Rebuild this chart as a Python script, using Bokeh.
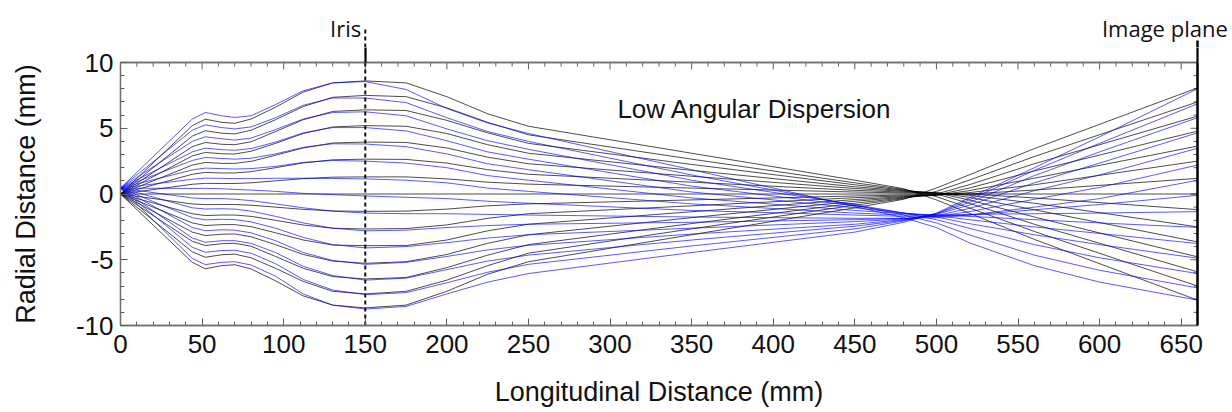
from bokeh.plotting import figure
from bokeh.layouts import column
from bokeh.models import LinearAxis, Range1d, Label, SingleIntervalTicker, FixedTicker, PrintfTickFormatter
from bokeh.embed import file_html
from bokeh.resources import INLINE

# ---------------- data ----------------
# longitudinal stations (mm) for black and blue ray sets
x_black = [0, 44, 52, 62, 70, 80, 95, 112, 130, 150, 175, 200, 225, 250, 350, 450, 480, 500, 520, 560, 660]
x_blue = [0, 44, 52, 62, 70, 80, 95, 112, 130, 150, 175, 200, 225, 250, 350, 450, 480, 500, 520, 560, 600, 660]

# black rays (radial distance, mm)
k_up1 = [0, 5.2, 5.69, 5.45, 5.38, 5.7, 6.6, 7.75, 8.45, 8.6, 8.45, 7.4, 6.1, 5.15, 3.1, 1.05, 0.4, -0.45, -1.45, -3.45, -8.07]
k_up2 = [0, 4.4, 4.81, 4.62, 4.57, 4.85, 5.65, 6.65, 7.35, 7.5, 7.4, 6.55, 5.45, 4.5, 2.65, 0.85, 0.35, -0.2, -1.05, -2.85, -7.0]
k_up3 = [0, 3.6, 3.92, 3.78, 3.75, 3.97, 4.75, 5.65, 6.28, 6.4, 6.35, 5.6, 4.65, 3.85, 2.25, 0.7, 0.3, 0.0, -0.7, -2.3, -5.92]
k_up4 = [0, 2.9, 3.16, 3.06, 3.04, 3.25, 3.85, 4.6, 5.1, 5.2, 5.15, 4.6, 3.75, 3.1, 1.8, 0.55, 0.25, 0.08, -0.45, -1.75, -4.78]
k_up5 = [0, 2.2, 2.4, 2.33, 2.33, 2.48, 2.95, 3.5, 3.88, 3.95, 3.92, 3.5, 2.8, 2.3, 1.35, 0.42, 0.2, 0.1, -0.25, -1.2, -3.64]
k_up6 = [0, 1.5, 1.64, 1.6, 1.6, 1.7, 2.0, 2.36, 2.6, 2.65, 2.63, 2.35, 1.85, 1.5, 0.9, 0.28, 0.14, 0.08, -0.1, -0.7, -2.5]
k_up7 = [0, 0.74, 0.81, 0.8, 0.8, 0.85, 1.0, 1.17, 1.28, 1.3, 1.3, 1.15, 0.9, 0.75, 0.45, 0.15, 0.08, 0.05, 0.0, -0.3, -1.19]
k_mid = [0, 0, 0, 0, 0, 0, 0, 0, 0, 0, 0, 0, 0, 0, 0, 0, 0, 0, 0, 0, 0]
k_lo7 = [0, -0.76, -0.81, -0.8, -0.8, -0.85, -1.0, -1.17, -1.29, -1.32, -1.3, -1.15, -0.9, -0.75, -0.45, -0.15, -0.08, -0.05, 0.0, 0.3, 1.19]
k_lo6 = [0, -1.5, -1.64, -1.6, -1.6, -1.7, -2.0, -2.36, -2.6, -2.66, -2.63, -2.35, -1.85, -1.5, -0.9, -0.28, -0.14, -0.08, 0.1, 0.7, 2.5]
k_lo5 = [0, -2.2, -2.4, -2.33, -2.33, -2.48, -2.95, -3.5, -3.88, -3.93, -3.92, -3.5, -2.8, -2.3, -1.35, -0.42, -0.2, -0.1, 0.25, 1.2, 3.64]
k_lo4 = [0, -2.9, -3.16, -3.06, -3.04, -3.25, -3.85, -4.6, -5.1, -5.27, -5.15, -4.6, -3.75, -3.1, -1.8, -0.55, -0.25, -0.08, 0.45, 1.75, 4.78]
k_lo3 = [0, -3.6, -3.92, -3.78, -3.75, -3.97, -4.75, -5.65, -6.28, -6.46, -6.35, -5.6, -4.65, -3.85, -2.25, -0.7, -0.3, 0.0, 0.7, 2.3, 5.92]
k_lo2 = [0, -4.4, -4.81, -4.62, -4.57, -4.85, -5.65, -6.65, -7.4, -7.6, -7.4, -6.55, -5.45, -4.5, -2.65, -0.85, -0.35, 0.2, 1.05, 2.85, 7.0]
k_lo1 = [0, -5.2, -5.69, -5.45, -5.38, -5.7, -6.6, -7.75, -8.45, -8.66, -8.45, -7.4, -6.1, -5.15, -3.1, -1.05, -0.4, 0.45, 1.45, 3.45, 8.07]

# blue rays (radial distance, mm)
u_up1 = [0.45, 5.7, 6.2, 5.95, 5.82, 5.95, 6.8, 7.85, 8.45, 8.55, 7.95, 6.5, 5.4, 4.6, 1.85, -0.95, -1.8, -2.55, -3.7, -5.45, -6.7, -8.07]
u_up2 = [0.45, 4.85, 5.26, 5.05, 4.95, 5.1, 5.8, 6.75, 7.3, 7.3, 6.95, 5.8, 4.75, 4.0, 1.45, -0.85, -1.6, -2.2, -3.1, -4.65, -5.8, -7.14]
u_up3 = [0.45, 4.0, 4.35, 4.2, 4.1, 4.25, 4.9, 5.7, 6.2, 6.25, 5.95, 4.95, 4.05, 3.4, 1.05, -0.8, -1.45, -1.95, -2.6, -3.85, -4.85, -6.05]
u_up4 = [0.45, 3.2, 3.49, 3.37, 3.33, 3.45, 3.95, 4.65, 5.05, 5.05, 4.8, 4.05, 3.2, 2.65, 0.6, -0.9, -1.45, -1.75, -2.25, -3.1, -3.85, -4.88]
u_up5 = [0.45, 2.55, 2.78, 2.7, 2.65, 2.72, 3.05, 3.55, 3.82, 3.8, 3.6, 3.05, 2.3, 1.85, 0.15, -1.05, -1.45, -1.65, -1.95, -2.5, -3.0, -3.77]
u_up6 = [0.45, 1.83, 1.97, 1.93, 1.9, 1.93, 2.1, 2.4, 2.55, 2.5, 2.35, 2.0, 1.4, 1.05, -0.3, -1.25, -1.5, -1.6, -1.7, -1.95, -2.2, -2.54]
u_up7 = [0.45, 1.12, 1.21, 1.19, 1.17, 1.17, 1.2, 1.2, 1.18, 1.15, 1.05, 0.85, 0.45, 0.2, -0.75, -1.45, -1.6, -1.6, -1.55, -1.5, -1.45, -1.34]
u_mid = [0.45, 0.42, 0.43, 0.4, 0.35, 0.3, 0.2, 0.05, -0.05, -0.15, -0.25, -0.35, -0.55, -0.7, -1.25, -1.6, -1.7, -1.7, -1.6, -1.2, -0.8, -0.1]
u_lo1 = [0.45, -0.3, -0.35, -0.35, -0.4, -0.5, -0.75, -1.05, -1.3, -1.45, -1.5, -1.5, -1.55, -1.6, -1.75, -1.85, -1.85, -1.8, -1.6, -1.0, -0.35, 1.04]
u_lo2 = [0.45, -1.05, -1.14, -1.12, -1.15, -1.3, -1.7, -2.2, -2.6, -2.8, -2.75, -2.55, -2.4, -2.3, -2.15, -1.95, -1.85, -1.7, -1.35, -0.4, 0.5, 2.2]
u_lo3 = [0.45, -1.8, -1.97, -1.92, -1.95, -2.12, -2.6, -3.3, -3.85, -4.1, -4.0, -3.7, -3.35, -3.1, -2.6, -2.1, -1.9, -1.65, -1.1, 0.25, 1.45, 3.47]
u_lo4 = [0.45, -2.55, -2.79, -2.72, -2.75, -2.95, -3.55, -4.45, -5.05, -5.35, -5.2, -4.75, -4.25, -3.9, -3.05, -2.3, -1.95, -1.55, -0.85, 0.85, 2.35, 4.65]
u_lo5 = [0.45, -3.35, -3.67, -3.55, -3.55, -3.75, -4.45, -5.5, -6.2, -6.55, -6.4, -5.75, -5.1, -4.65, -3.5, -2.45, -2.0, -1.5, -0.65, 1.4, 3.2, 5.8]
u_lo6 = [0.45, -4.05, -4.43, -4.3, -4.28, -4.5, -5.3, -6.5, -7.3, -7.65, -7.5, -6.75, -5.95, -5.35, -3.95, -2.65, -2.05, -1.5, -0.45, 1.8, 3.85, 6.86]
u_lo7 = [0.45, -4.9, -5.37, -5.2, -5.15, -5.4, -6.25, -7.6, -8.45, -8.75, -8.55, -7.6, -6.7, -6.05, -4.45, -2.9, -2.15, -1.45, -0.3, 2.0, 4.35, 8.0]

black_rays = [k_up1, k_up2, k_up3, k_up4, k_up5, k_up6, k_up7, k_mid,
              k_lo7, k_lo6, k_lo5, k_lo4, k_lo3, k_lo2, k_lo1]
blue_rays = [u_up1, u_up2, u_up3, u_up4, u_up5, u_up6, u_up7, u_mid,
             u_lo1, u_lo2, u_lo3, u_lo4, u_lo5, u_lo6, u_lo7]

x_min, x_max = 0, 660          # axis extent (mm)
y_min, y_max = -10, 10         # axis extent (mm)
iris_x = 150
image_plane_x = 660
# where the two marker captions sit along the longitudinal axis (mm)
caption_x = {138: "Iris", 640: "Image plane"}

# ---------------- geometry ----------------
W = 1232
MAIN_TOP, MAIN_BOTTOM = 15, 87
STRIP_H = 62 - MAIN_TOP          # strip above the plot holding the captions
LEFT, RIGHT = 120, 35
FRAME_H = 263

FRAME_COLOR = "#707070"
TICK_COLOR = "#606060"
TEXT_COLOR = "#111111"

# ---------- upper strip: captions and the top ends of the two marker lines ----------
top = figure(width=W, height=STRIP_H,
             x_range=Range1d(x_min, x_max),
             y_range=Range1d(STRIP_H, 27),      # value = pixels from the top of the page
             output_backend="svg", toolbar_location=None,
             x_axis_location=None, y_axis_location=None,
             min_border_left=LEFT, min_border_right=RIGHT, min_border_top=27, min_border_bottom=0)
top.outline_line_color = None
top.xgrid.visible = False
top.ygrid.visible = False
top.segment(x0=[iris_x], y0=[STRIP_H], x1=[iris_x], y1=[27],
            line_color=TEXT_COLOR, line_width=2, line_dash="4 3")

cap = LinearAxis(ticker=FixedTicker(ticks=list(caption_x.keys()), minor_ticks=[]),
                 major_label_overrides=caption_x)
cap.axis_line_color = None
cap.major_tick_line_color = None
cap.minor_tick_line_color = None
cap.major_tick_in = 0
cap.major_tick_out = 0
cap.major_label_standoff = -15
cap.major_label_text_font = "Open Sans"
cap.major_label_text_font_size = "22px"
cap.major_label_text_color = TEXT_COLOR
top.add_layout(cap, "above")

plane_top = LinearAxis(ticker=FixedTicker(ticks=[], minor_ticks=[]), bounds=(STRIP_H, 40))
plane_top.axis_line_color = "#000000"
plane_top.axis_line_width = 2.5
plane_top.major_tick_line_color = None
plane_top.minor_tick_line_color = None
top.add_layout(plane_top, "right")

# ---------------- main plot ----------------
p = figure(width=W, height=MAIN_TOP + FRAME_H + MAIN_BOTTOM,
           x_range=Range1d(x_min, x_max), y_range=Range1d(y_min, y_max),
           output_backend="svg", toolbar_location=None,
           x_axis_location=None, y_axis_location=None,
           min_border_left=LEFT, min_border_right=RIGHT,
           min_border_top=MAIN_TOP, min_border_bottom=MAIN_BOTTOM)
p.outline_line_color = FRAME_COLOR
p.outline_line_width = 1.3
p.xgrid.visible = False
p.ygrid.visible = False
px_per_x = 1077 / (x_max - x_min)
px_per_y = FRAME_H / (y_max - y_min)


def style(ax):
    ax.major_tick_in = 7
    ax.major_tick_out = 0
    ax.minor_tick_in = 4
    ax.minor_tick_out = 0
    ax.axis_line_color = FRAME_COLOR
    ax.axis_line_width = 1.3
    ax.major_tick_line_color = TICK_COLOR
    ax.minor_tick_line_color = TICK_COLOR
    ax.major_label_text_font = "Liberation Sans"
    ax.major_label_text_font_size = "26px"
    ax.major_label_text_color = TEXT_COLOR
    ax.axis_label_text_font = "Liberation Sans"
    ax.axis_label_text_font_size = "27px"
    ax.axis_label_text_font_style = "normal"
    ax.axis_label_text_color = TEXT_COLOR
    ax.formatter = PrintfTickFormatter(format="%d")


xb = LinearAxis(ticker=SingleIntervalTicker(interval=50, num_minor_ticks=5),
                axis_label="Longitudinal Distance (mm)")
style(xb)
xb.major_label_standoff = 9
xb.axis_label_standoff = 21
p.add_layout(xb, "below")

yl = LinearAxis(ticker=SingleIntervalTicker(interval=5, num_minor_ticks=5),
                axis_label="Radial Distance (mm)")
style(yl)
yl.major_label_standoff = 7
yl.axis_label_standoff = 32
p.add_layout(yl, "left")

# short connectors between the strip and the box (iris and image plane)
conn = LinearAxis(ticker=FixedTicker(ticks=[], minor_ticks=[iris_x, image_plane_x]))
conn.axis_line_color = FRAME_COLOR
conn.axis_line_width = 1.3
conn.major_tick_line_color = None
conn.minor_tick_in = 0
conn.minor_tick_out = MAIN_TOP
conn.minor_tick_line_color = "#000000"
conn.minor_tick_line_width = 2.2
conn.major_label_standoff = 0
p.add_layout(conn, "above")

# image plane: thick black right edge of the box
yr = LinearAxis(ticker=FixedTicker(ticks=[], minor_ticks=[]))
yr.axis_line_color = "#000000"
yr.axis_line_width = 2.5
p.add_layout(yr, "right")

# top edge inward ticks
top_major = list(range(x_min, x_max + 1, 50))
top_minor = [v for v in range(x_min, x_max + 1, 10) if v % 50]
p.segment(x0=top_major, y0=[y_max] * len(top_major), x1=top_major,
          y1=[y_max - 7 / px_per_y] * len(top_major), line_color=TICK_COLOR, line_width=1)
p.segment(x0=top_minor, y0=[y_max] * len(top_minor), x1=top_minor,
          y1=[y_max - 4 / px_per_y] * len(top_minor), line_color=TICK_COLOR, line_width=1)

# right edge inward ticks
r_major = list(range(y_min, y_max + 1, 5))
r_minor = [v for v in range(y_min, y_max + 1) if v % 5]
p.segment(x0=[image_plane_x] * len(r_major), y0=r_major, x1=[image_plane_x - 7 / px_per_x] * len(r_major),
          y1=r_major, line_color=TICK_COLOR, line_width=1)
p.segment(x0=[image_plane_x] * len(r_minor), y0=r_minor, x1=[image_plane_x - 4 / px_per_x] * len(r_minor),
          y1=r_minor, line_color=TICK_COLOR, line_width=1)

# rays
p.multi_line(xs=[x_black] * len(black_rays), ys=black_rays, line_color="#000000",
             line_alpha=0.7, line_width=1)
p.multi_line(xs=[x_blue] * len(blue_rays), ys=blue_rays, line_color="#0000ff",
             line_alpha=0.65, line_width=1)

# iris (dashed)
p.segment(x0=[iris_x], y0=[y_min], x1=[iris_x], y1=[y_max],
          line_color=TEXT_COLOR, line_width=2, line_dash="4 3")

p.add_layout(Label(x=304.5, y=6.43, text="Low Angular Dispersion", text_baseline="alphabetic",
                   text_font="Liberation Sans", text_font_size="26px", text_color=TEXT_COLOR))

layout = column(top, p, spacing=0)
open("out.html", "w").write(file_html(layout, INLINE))
